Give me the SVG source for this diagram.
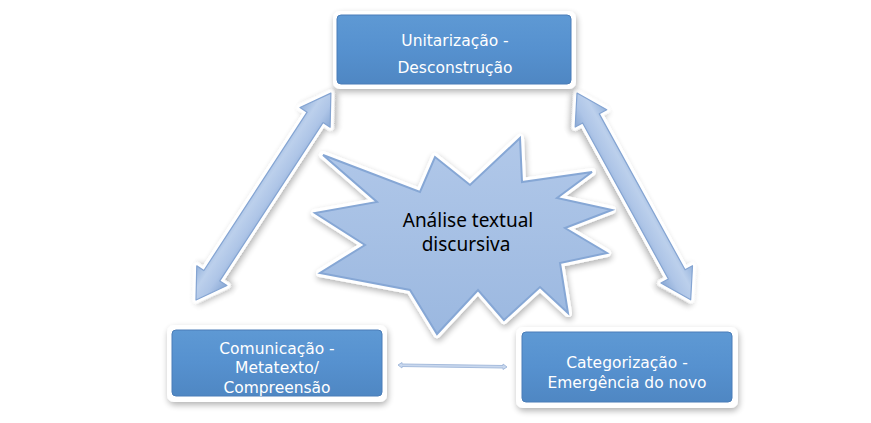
<svg xmlns="http://www.w3.org/2000/svg" width="871" height="423" viewBox="0 0 871 423">
<defs>
<filter id="sh" x="-20%" y="-20%" width="140%" height="150%">
<feGaussianBlur in="SourceAlpha" stdDeviation="3"/>
<feOffset dx="1" dy="3" result="b"/>
<feComponentTransfer><feFuncA type="linear" slope="0.3"/></feComponentTransfer>
<feMerge><feMergeNode/><feMergeNode in="SourceGraphic"/></feMerge>
</filter>
<linearGradient id="boxg" x1="0" y1="0" x2="0" y2="1">
<stop offset="0" stop-color="#5E99D4"/>
<stop offset="0.5" stop-color="#5691CF"/>
<stop offset="1" stop-color="#4F87C3"/>
</linearGradient>
<linearGradient id="starg" x1="0" y1="0" x2="0" y2="1">
<stop offset="0" stop-color="#B1C8E9"/>
<stop offset="1" stop-color="#9BB8E0"/>
</linearGradient>
<linearGradient id="arrg" gradientUnits="userSpaceOnUse" x1="0" y1="-19" x2="0" y2="19">
<stop offset="0" stop-color="#92B1DB"/>
<stop offset="0.35" stop-color="#BCD0EC"/>
<stop offset="0.65" stop-color="#AEC5E7"/>
<stop offset="1" stop-color="#86A6D3"/>
</linearGradient>
</defs>
<style>
.outer{fill:#FFFFFF;}
.box{fill:url(#boxg);stroke:#4A7DB8;stroke-width:1;}
.bt{font-family:"DejaVu Sans",Verdana,sans-serif;font-size:15.5px;fill:#FFFFFF;text-anchor:middle;}
.st{font-family:"Noto Sans","DejaVu Sans",sans-serif;font-size:19px;fill:#000000;text-anchor:middle;}
.arw{fill:url(#arrg);stroke:#84A4D2;stroke-width:1.2;stroke-linejoin:round;}
.arwo{fill:#FFFFFF;stroke:#FFFFFF;stroke-width:7;stroke-linejoin:round;}
</style>

<g id="connectors">
<g id="arrow-left" transform="translate(196,300) rotate(-56.9)">
<g filter="url(#sh)"><path class="arwo" d="M0,0 L29,-18 L29,-9.5 L218,-9.5 L218,-18 L247,0 L218,18 L218,9.5 L29,9.5 L29,18 Z"/></g>
<path class="arw" d="M0,0 L29,-18 L29,-9.5 L218,-9.5 L218,-18 L247,0 L218,18 L218,9.5 L29,9.5 L29,18 Z"/>
</g>
<g id="arrow-right" transform="translate(577,93) rotate(61.2)">
<g filter="url(#sh)"><path class="arwo" d="M0,0 L29,-18 L29,-9.5 L207,-9.5 L207,-18 L236,0 L207,18 L207,9.5 L29,9.5 L29,18 Z"/></g>
<path class="arw" d="M0,0 L29,-18 L29,-9.5 L207,-9.5 L207,-18 L236,0 L207,18 L207,9.5 L29,9.5 L29,18 Z"/>
</g>
<g id="arrow-bottom">
<path d="M398,365 L402,362.5 L402,364 L503,365.5 L503,364 L507,367 L503,369.5 L503,368 L402,366.5 L402,368 Z" fill="#C9D8EE" stroke="#A6BCDD" stroke-width="1"/>
</g>
</g>

<g id="node-center">
<g filter="url(#sh)">
<polygon points="323,155 420,192 435,157 470,185 520,138 522,182 592,172 557,198 612,210 565,228 607,253 560,263 568,313 540,287 504,320 478,290 437,334 410,290 320,273 365,245 315,213 377,202" fill="#FFFFFF" stroke="#FFFFFF" stroke-width="8" stroke-linejoin="round"/>
</g>
<polygon points="323,155 420,192 435,157 470,185 520,138 522,182 592,172 557,198 612,210 565,228 607,253 560,263 568,313 540,287 504,320 478,290 437,334 410,290 320,273 365,245 315,213 377,202" fill="url(#starg)" stroke="#86A7D5" stroke-width="2" stroke-linejoin="miter"/>
<text class="st" x="468" y="227">Análise textual</text>
<text class="st" x="466" y="251">discursiva</text>
</g>

<g id="node-top">
<rect class="outer" x="333" y="11" width="243" height="78" rx="7" filter="url(#sh)"/>
<rect class="box" x="337" y="15" width="234" height="69" rx="4"/>
<text class="bt" x="455" y="46">Unitarização -</text>
<text class="bt" x="455" y="73">Desconstrução</text>
</g>

<g id="node-left">
<rect class="outer" x="167" y="325" width="220" height="77" rx="7" filter="url(#sh)"/>
<rect class="box" x="172" y="330" width="210" height="66" rx="4"/>
<text class="bt" x="277" y="354">Comunicação -</text>
<text class="bt" x="277" y="373">Metatexto/</text>
<text class="bt" x="277" y="393">Compreensão</text>
</g>

<g id="node-right">
<rect class="outer" x="516" y="327" width="222" height="81" rx="7" filter="url(#sh)"/>
<rect class="box" x="522" y="332" width="210" height="70" rx="4"/>
<text class="bt" x="627" y="368">Categorização -</text>
<text class="bt" x="627" y="388">Emergência do novo</text>
</g>
</svg>
